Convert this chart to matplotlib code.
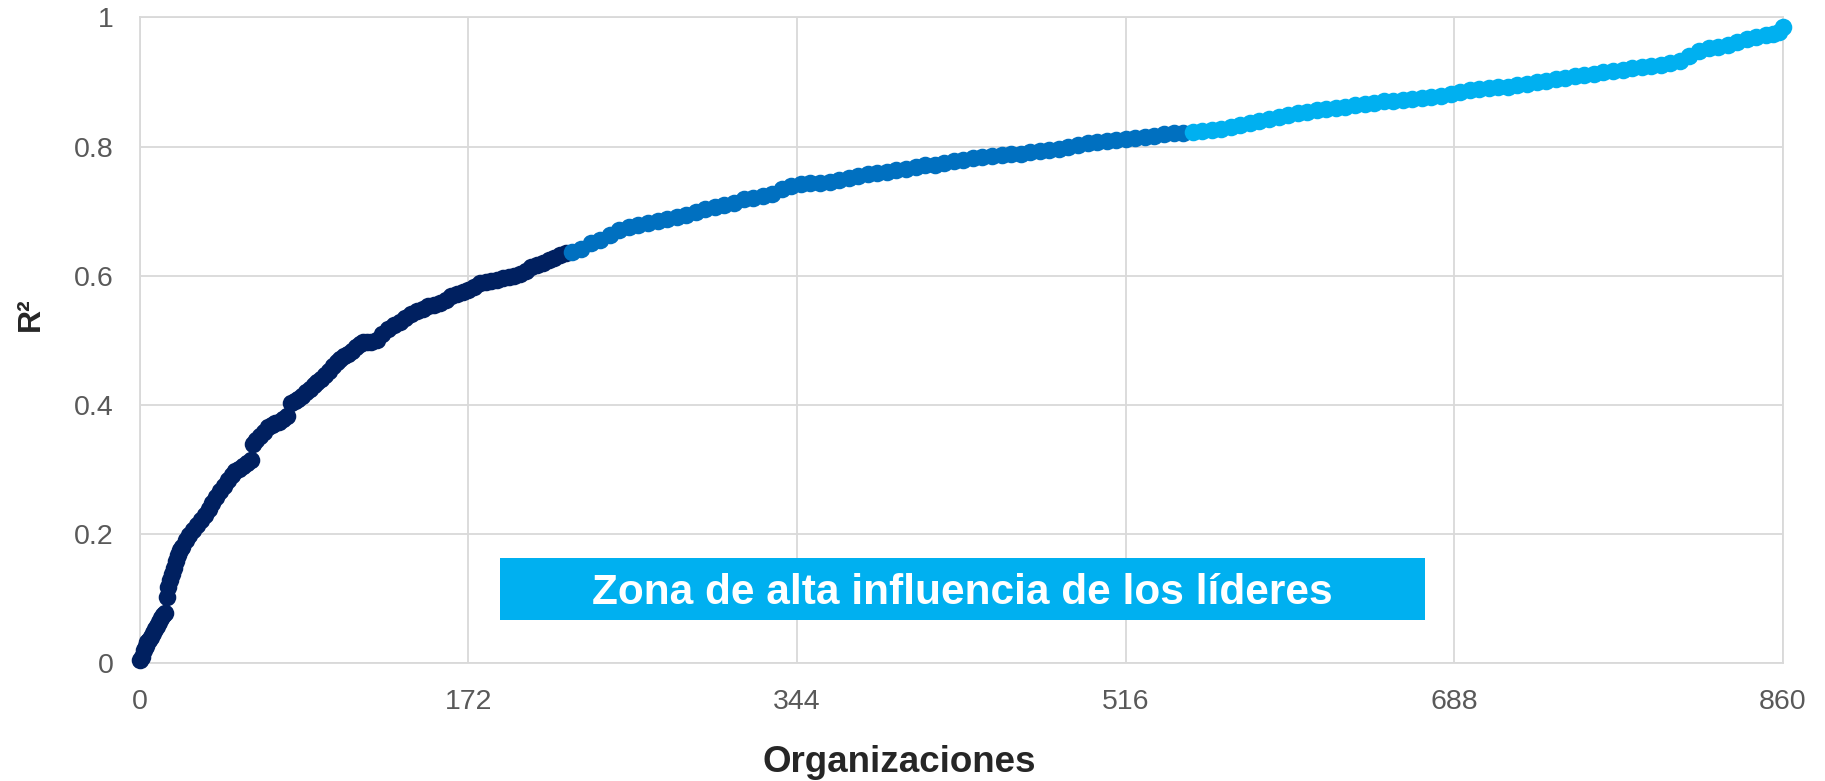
import matplotlib.pyplot as plt
from matplotlib.patches import Rectangle

plt.rcParams["font.family"] = ["Liberation Sans", "DejaVu Sans"]

# R² por organización, ordenado de menor a mayor (tres tramos de color)
org_low = [0, 1, 2, 3, 4, 5, 6, 7, 8, 9, 10, 11, 12, 13, 14, 15, 16, 17, 18, 19,
           20, 21, 22, 24, 26, 28, 30, 32, 34, 36, 38, 40, 42, 44, 46, 48, 50, 52,
           54, 56, 58, 59, 61, 63, 65, 67, 69, 71, 73, 75, 77, 79, 81, 83, 85, 87,
           89, 91, 93, 95, 97, 99, 101, 103, 105, 107, 109, 111, 113, 115, 117,
           119, 121, 124, 127, 130, 133, 136, 139, 142, 145, 148, 151, 154, 157,
           160, 163, 166, 169, 172, 175, 178, 181, 184, 187, 190, 193, 196, 199,
           202, 205, 208, 211, 214, 217, 220, 223]
r2_low = [0.004, 0.010, 0.020, 0.027, 0.032, 0.036, 0.040, 0.046, 0.052, 0.058,
          0.064, 0.070, 0.074, 0.078, 0.103, 0.118, 0.128, 0.138, 0.148, 0.158,
          0.167, 0.175, 0.180, 0.190, 0.199, 0.206, 0.214, 0.222, 0.230, 0.239,
          0.248, 0.257, 0.266, 0.275, 0.284, 0.291, 0.297, 0.301, 0.305, 0.310,
          0.314, 0.340, 0.346, 0.351, 0.358, 0.366, 0.369, 0.372, 0.374, 0.378,
          0.383, 0.403, 0.406, 0.409, 0.414, 0.420, 0.425, 0.431, 0.435, 0.440,
          0.446, 0.452, 0.460, 0.466, 0.471, 0.475, 0.479, 0.483, 0.489, 0.495,
          0.497, 0.497, 0.497, 0.501, 0.510, 0.517, 0.523, 0.529, 0.535, 0.540,
          0.545, 0.549, 0.553, 0.555, 0.558, 0.563, 0.568, 0.572, 0.575, 0.578,
          0.583, 0.588, 0.590, 0.592, 0.594, 0.596, 0.598, 0.600, 0.603, 0.608,
          0.613, 0.617, 0.620, 0.624, 0.628, 0.632, 0.635]

org_mid = [226, 231, 236, 241, 246, 251, 256, 261, 266, 271, 276, 281, 286, 291,
           296, 301, 306, 311, 316, 321, 326, 331, 336, 341, 346, 351, 356, 361,
           366, 371, 376, 381, 386, 391, 396, 401, 406, 411, 416, 421, 426, 431,
           436, 441, 446, 451, 456, 461, 466, 471, 476, 481, 486, 491, 496, 501,
           506, 511, 516, 521, 526, 531, 536, 541, 546]
r2_mid = [0.637, 0.642, 0.650, 0.656, 0.663, 0.671, 0.676, 0.679, 0.681, 0.684,
          0.688, 0.691, 0.694, 0.699, 0.704, 0.707, 0.710, 0.713, 0.719, 0.721,
          0.724, 0.727, 0.734, 0.739, 0.742, 0.743, 0.744, 0.745, 0.748, 0.751,
          0.755, 0.757, 0.759, 0.761, 0.763, 0.766, 0.769, 0.771, 0.772, 0.774,
          0.777, 0.779, 0.782, 0.784, 0.786, 0.787, 0.788, 0.789, 0.791, 0.793,
          0.795, 0.797, 0.800, 0.803, 0.805, 0.807, 0.809, 0.811, 0.812, 0.814,
          0.815, 0.817, 0.819, 0.821, 0.821]

org_high = [551, 556, 561, 566, 571, 576, 581, 586, 591, 596, 601, 606, 611, 616,
            621, 626, 631, 636, 641, 646, 651, 656, 661, 666, 671, 676, 681, 686,
            691, 696, 701, 706, 711, 716, 721, 726, 731, 736, 741, 746, 751, 756,
            761, 766, 771, 776, 781, 786, 791, 796, 801, 806, 811, 816, 821, 826,
            831, 836, 841, 846, 851, 855, 858, 860]
r2_high = [0.822, 0.824, 0.826, 0.828, 0.831, 0.834, 0.837, 0.840, 0.843, 0.846,
           0.849, 0.852, 0.854, 0.856, 0.858, 0.860, 0.862, 0.864, 0.866, 0.868,
           0.870, 0.871, 0.872, 0.874, 0.875, 0.877, 0.879, 0.882, 0.885, 0.887,
           0.889, 0.891, 0.892, 0.893, 0.895, 0.897, 0.900, 0.902, 0.904, 0.906,
           0.909, 0.911, 0.913, 0.915, 0.917, 0.919, 0.921, 0.923, 0.925, 0.927,
           0.930, 0.933, 0.940, 0.948, 0.952, 0.955, 0.958, 0.962, 0.966, 0.970,
           0.973, 0.975, 0.978, 0.986]

x_ticks = [0, 172, 344, 516, 688, 860]
y_ticks = [0, 0.2, 0.4, 0.6, 0.8, 1]
y_tick_labels = ["0", "0.2", "0.4", "0.6", "0.8", "1"]

NAVY = "#002060"
BLUE = "#0070C0"
CYAN = "#00B0F0"
GRID = "#D9D9D9"
TICK = "#595959"

fig = plt.figure(figsize=(18.25, 7.81), dpi=100)
ax = fig.add_axes([0.0766, 0.151, 0.9004, 0.8266])

for xs, ys, col in [(org_low, r2_low, NAVY), (org_mid, r2_mid, BLUE), (org_high, r2_high, CYAN)]:
    ax.scatter(xs, ys, s=160, color=col, linewidths=0, zorder=3, clip_on=False)

ax.set_xlim(0, 860)
ax.set_ylim(0, 1)
ax.set_xticks(x_ticks)
ax.set_xticklabels([str(t) for t in x_ticks])
ax.set_yticks(y_ticks)
ax.set_yticklabels(y_tick_labels)
ax.tick_params(length=0, labelsize=20.5, labelcolor=TICK)
ax.tick_params(axis="x", pad=19)
ax.tick_params(axis="y", pad=19)
ax.grid(True, color=GRID, linewidth=1.3, zorder=0)
ax.set_axisbelow(True)
for sp in ax.spines.values():
    sp.set_color(GRID)
    sp.set_linewidth(1.3)

# recuadro de la zona de alta influencia
ax.add_patch(Rectangle((0.2193, 0.067), 0.5628, 0.096, transform=ax.transAxes,
                       facecolor=CYAN, edgecolor="none", zorder=4))
ax.text(0.5007, 0.108, "Zona de alta influencia de los líderes", transform=ax.transAxes,
        ha="center", va="center", color="white", fontsize=30.5, fontweight="bold", zorder=5)

fig.text(0.4926, 0.024, "Organizaciones", ha="center", va="center",
         fontsize=26.5, fontweight="bold", color="#262626")
fig.text(0.017, 0.598, "R²", ha="center", va="center", rotation=90,
         fontsize=23, fontweight="bold", color="#262626")

fig.savefig("out.png", dpi=100)
